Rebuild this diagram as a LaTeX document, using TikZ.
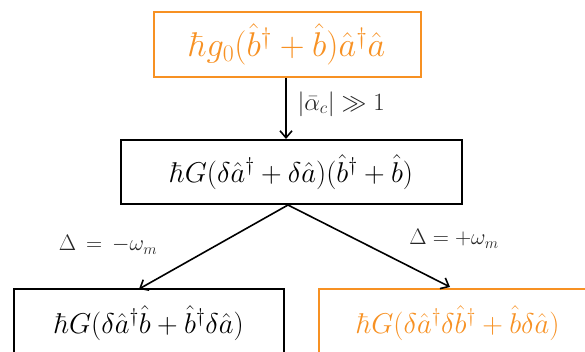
\documentclass[tikz,border=0pt]{standalone}
\usetikzlibrary{arrows.meta}
\definecolor{myorange}{RGB}{247,145,35}
\newcommand{\sbx}[2]{\scalebox{#1}{#2}}
\begin{document}
\begin{tikzpicture}[x=1pt,y=-1pt,
  box/.style={draw, line width=2pt, inner sep=0pt, font=\fontsize{27}{32}\selectfont},
  obox/.style={box, draw=myorange, text=myorange},
  kbox/.style={box, draw=black, text=black},
  arr/.style={line width=1.6pt, -{Straight Barb[length=7pt,width=12pt,line width=1.6pt]}},
  lbl/.style={font=\fontsize{21}{25}\selectfont, text=black!85}]
\useasboundingbox (0,0) rectangle (585,352);
\clip (0,0) rectangle (585,352);
\node[obox, minimum width=267pt, minimum height=65pt] (top) at (287,44.5)
  {\sbx{1.38}{$\hbar g_0(\hat b^\dagger+\hat b)\hat a^\dagger\hat a$}};
\node[kbox, minimum width=341pt, minimum height=64pt] (mid) at (291.5,172)
  {\sbx{1.15}{$\hbar G(\delta\hat a^\dagger+\delta\hat a)(\hat b^\dagger+\hat b)$}};
\node[kbox, minimum width=270pt, minimum height=68pt] (bl) at (149,323)
  {\sbx{1.15}{$\hbar G(\delta\hat a^\dagger\hat b+\hat b^\dagger\delta\hat a)$}};
\node[obox, minimum width=278pt, minimum height=68pt] (br) at (458,323)
  {\sbx{1.15}{$\hbar G(\delta\hat a^\dagger\delta\hat b^\dagger+\hat b\delta\hat a)$}};
\coordinate (lend) at (139,289);
\coordinate (rend) at (450,287);
\draw[arr] (top.south -| 286,0) -- (mid.north -| 286,0);
\draw[arr] (288,205) -- (lend);
\draw[arr] (288,205) -- (rend);
\node[lbl, anchor=west] (l1) at (294,104) {\sbx{1.2}{$|\bar\alpha_c|\gg 1$}};
\node[lbl] (l2) at (108,245) {\sbx{1.08}{$\Delta\,=\,-\omega_m$}};
\node[lbl] (l3) at (454,239) {\sbx{1.08}{$\Delta=+\omega_m$}};
\end{tikzpicture}
\end{document}
